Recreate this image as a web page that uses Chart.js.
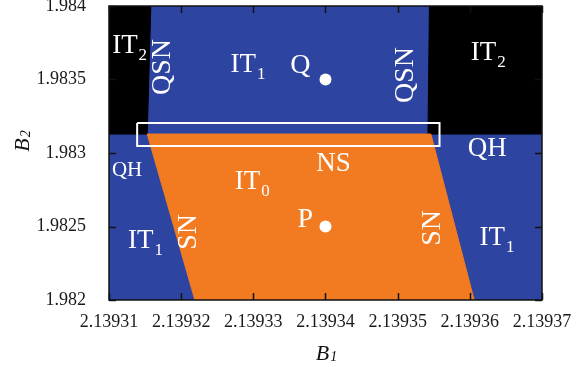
<!DOCTYPE html>
<html>
<head>
<meta charset="utf-8">
<script src="https://cdn.jsdelivr.net/npm/chart.js@4.4.1/dist/chart.umd.min.js"></script>
<style>
  html, body { margin: 0; padding: 0; background: #fff; }
  #wrap { width: 580px; height: 366px; }
</style>
</head>
<body>
<div id="wrap"><canvas id="chart" width="580" height="366"></canvas></div>
<script>
// Axis ticks
const xTickLabels = ['2.13931', '2.13932', '2.13933', '2.13934', '2.13935', '2.13936', '2.13937'];
const yTickLabels = ['1.982', '1.9825', '1.983', '1.9835', '1.984'];

// Region outlines [B1, B2]
const blackLeft = [[2.13931, 1.984], [2.1393158, 1.984], [2.1393153, 1.983129], [2.13931, 1.983129]];
const blackRight = [[2.1393544, 1.984], [2.13937, 1.984], [2.13937, 1.983129], [2.1393542, 1.983129]];
const orangeNS = [[2.1393153, 1.983129], [2.1393546, 1.983129], [2.1393606, 1.982], [2.1393219, 1.982]];
const boxNS = [[2.1393139, 1.983204], [2.1393558, 1.983204], [2.1393558, 1.983048], [2.1393139, 1.983048]];

// Marked points
const pointNames = ['Q', 'P'];
const pointX = [2.13934, 2.13934];
const pointY = [1.9835, 1.9825];

// Region labels: text, subscript, B1, B2, font size, rotation
const regionLabels = [
  ['IT', '2', 2.1393122, 1.983728, 27, 0],
  ['QSN', '', 2.1393175, 1.983585, 28, -90],
  ['IT', '1', 2.1393286, 1.983599, 27, 0],
  ['Q', '', 2.1393365, 1.983592, 28, 0],
  ['QSN', '', 2.1393511, 1.983531, 28, -90],
  ['IT', '2', 2.1393619, 1.983680, 27, 0],
  ['QH', '', 2.1393624, 1.983027, 27, 0],
  ['QH', '', 2.1393125, 1.982884, 21, 0],
  ['NS', '', 2.1393411, 1.982925, 27, 0],
  ['IT', '0', 2.1393292, 1.982803, 27, 0],
  ['P', '', 2.1393372, 1.982544, 28, 0],
  ['IT', '1', 2.1393144, 1.982401, 27, 0],
  ['SN', '', 2.1393210, 1.982463, 28, -90],
  ['SN', '', 2.1393549, 1.982490, 28, -90],
  ['IT', '1', 2.1393631, 1.982422, 27, 0]
];

const BLUE = '#2e44a1';
const ORANGE = '#f27b21';
const SERIF = '"Liberation Serif", "DejaVu Serif", serif';

function toPoints(arr) {
  const pts = arr.map(p => ({ x: p[0], y: p[1] }));
  pts.push({ x: arr[0][0], y: arr[0][1] });
  return pts;
}

function polygon(arr, color) {
  return {
    type: 'line',
    data: toPoints(arr),
    showLine: true,
    fill: 'shape',
    backgroundColor: color,
    borderColor: color,
    borderWidth: 1,
    pointRadius: 0,
    tension: 0
  };
}

function drawLabel(ctx, x, y, text, sub, size, rot) {
  ctx.save();
  ctx.translate(x, y);
  ctx.rotate(rot * Math.PI / 180);
  ctx.fillStyle = '#fff';
  ctx.textBaseline = 'middle';
  ctx.textAlign = 'left';
  ctx.font = size + 'px ' + SERIF;
  const w = ctx.measureText(text).width;
  ctx.fillText(text, -w / 2, 0);
  if (sub) {
    ctx.font = Math.round(size * 0.62) + 'px ' + SERIF;
    ctx.fillText(sub, w / 2 + 1, size * 0.35);
  }
  ctx.restore();
}

const overlay = {
  id: 'overlay',
  beforeDatasetsDraw(chart) {
    const a = chart.chartArea;
    const ctx = chart.ctx;
    ctx.save();
    ctx.fillStyle = BLUE;
    ctx.fillRect(a.left, a.top, a.right - a.left, a.bottom - a.top);
    ctx.restore();
  },
  afterDatasetsDraw(chart) {
    const xs = chart.scales.x, ys = chart.scales.y;
    regionLabels.forEach(l => {
      drawLabel(chart.ctx, xs.getPixelForValue(l[2]), ys.getPixelForValue(l[3]), l[0], l[1], l[4], l[5]);
    });
  },
  afterDraw(chart) {
    const a = chart.chartArea;
    const ctx = chart.ctx;
    const xs = chart.scales.x, ys = chart.scales.y;
    ctx.save();
    ctx.strokeStyle = '#111';
    ctx.lineWidth = 1.5;
    ctx.strokeRect(a.left, a.top, a.right - a.left, a.bottom - a.top);
    // inward tick marks on all four sides
    ctx.beginPath();
    xs.ticks.forEach(t => {
      const px = Math.round(xs.getPixelForValue(t.value)) + 0.5;
      ctx.moveTo(px, a.bottom); ctx.lineTo(px, a.bottom - 7);
      ctx.moveTo(px, a.top); ctx.lineTo(px, a.top + 7);
    });
    ys.ticks.forEach(t => {
      const py = Math.round(ys.getPixelForValue(t.value)) + 0.5;
      ctx.moveTo(a.left, py); ctx.lineTo(a.left + 7, py);
      ctx.moveTo(a.right, py); ctx.lineTo(a.right - 7, py);
    });
    ctx.stroke();

    // axis titles
    ctx.fillStyle = '#111';
    ctx.textBaseline = 'alphabetic';
    ctx.textAlign = 'left';
    ctx.font = 'italic 22px ' + SERIF;
    const bw = ctx.measureText('B').width;
    const cx = (a.left + a.right) / 2;
    ctx.fillText('B', cx - bw / 2 - 3, 360);
    ctx.font = 'italic 14px ' + SERIF;
    ctx.fillText('1', cx + bw / 2 - 2, 361);

    ctx.translate(29, 142);
    ctx.rotate(-Math.PI / 2);
    ctx.font = 'italic 22px ' + SERIF;
    ctx.fillText('B', -bw / 2 - 3, 0);
    ctx.font = 'italic 14px ' + SERIF;
    ctx.fillText('2', bw / 2 - 2, 1);
    ctx.restore();
  }
};

const chart = new Chart(document.getElementById('chart'), {
  type: 'scatter',
  data: {
    datasets: [
      {
        label: 'points',
        data: pointX.map((x, i) => ({ x: x, y: pointY[i], name: pointNames[i] })),
        backgroundColor: '#fff',
        borderColor: '#fff',
        pointRadius: 6,
        pointBorderWidth: 0
      },
      {
        type: 'line',
        label: 'box',
        data: toPoints(boxNS),
        showLine: true,
        fill: false,
        borderColor: '#fff',
        borderWidth: 2,
        pointRadius: 0,
        tension: 0
      },
      polygon(orangeNS, ORANGE),
      polygon(blackLeft, '#000'),
      polygon(blackRight, '#000')
    ]
  },
  options: {
    responsive: false,
    animation: false,
    events: [],
    layout: { padding: { left: 0, right: 38, top: 6, bottom: 0 } },
    plugins: { legend: { display: false }, tooltip: { enabled: false } },
    scales: {
      x: {
        type: 'linear',
        min: parseFloat(xTickLabels[0]),
        max: parseFloat(xTickLabels[xTickLabels.length - 1]),
        grid: { display: false },
        border: { display: false },
        afterBuildTicks: s => { s.ticks = xTickLabels.map(v => ({ value: parseFloat(v) })); },
        afterFit: s => { s.height = 66; s.paddingLeft = 0; s.paddingRight = 0; },
        ticks: {
          padding: 3,
          maxRotation: 0,
          autoSkip: false,
          color: '#1a1a1a',
          font: { family: SERIF, size: 18 },
          callback: (v, i) => xTickLabels[i]
        }
      },
      y: {
        type: 'linear',
        min: parseFloat(yTickLabels[0]),
        max: parseFloat(yTickLabels[yTickLabels.length - 1]),
        grid: { display: false },
        border: { display: false },
        afterBuildTicks: s => { s.ticks = yTickLabels.map(v => ({ value: parseFloat(v) })); },
        afterFit: s => { s.width = 109; s.paddingTop = 0; s.paddingBottom = 0; },
        ticks: {
          padding: 15,
          autoSkip: false,
          color: '#1a1a1a',
          font: { family: SERIF, size: 18 },
          callback: (v, i) => yTickLabels[i]
        }
      }
    }
  },
  plugins: [overlay]
});
</script>
</body>
</html>
